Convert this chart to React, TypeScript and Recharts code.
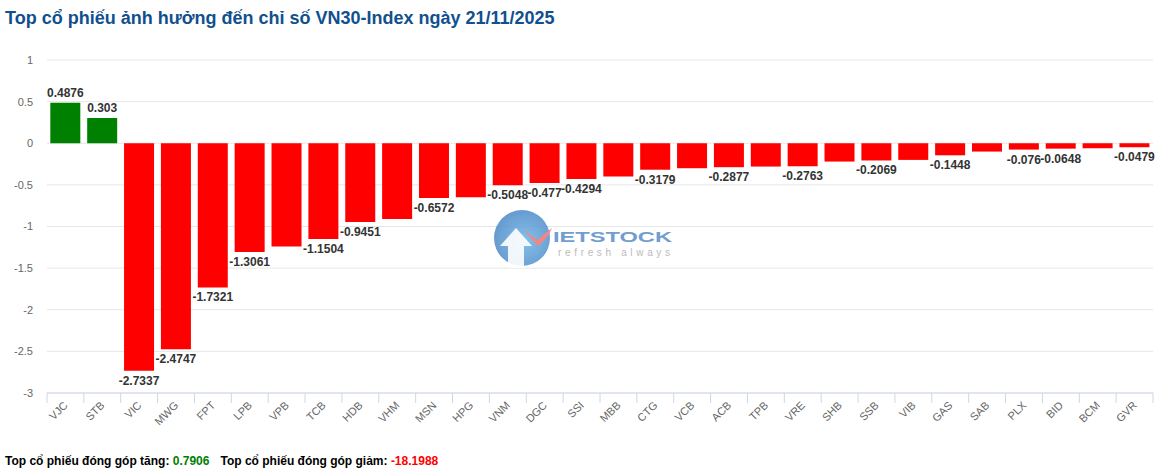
import React from 'react';
import { BarChart, Bar, XAxis, YAxis, CartesianGrid, Cell, LabelList } from 'recharts';

const tickers = ['VJC', 'STB', 'VIC', 'MWG', 'FPT', 'LPB', 'VPB', 'TCB', 'HDB', 'VHM', 'MSN', 'HPG', 'VNM', 'DGC', 'SSI', 'MBB', 'CTG', 'VCB', 'ACB', 'TPB', 'VRE', 'SHB', 'SSB', 'VIB', 'GAS', 'SAB', 'PLX', 'BID', 'BCM', 'GVR'];
const values = [0.4876, 0.303, -2.7337, -2.4747, -1.7321, -1.3061, -1.24, -1.1504, -0.9451, -0.91, -0.6572, -0.65, -0.5048, -0.477, -0.4294, -0.4, -0.3179, -0.3, -0.2877, -0.28, -0.2763, -0.22, -0.2069, -0.2, -0.1448, -0.1, -0.076, -0.0648, -0.06, -0.0479];
// labels the original chart hides because they overlap
const hiddenLabels = ['VPB', 'VHM', 'HPG', 'MBB', 'VCB', 'TPB', 'SHB', 'VIB', 'SAB', 'BCM'];
const yTicks = [-3, -2.5, -2, -1.5, -1, -0.5, 0, 0.5, 1];
const totalUp = '0.7906';
const totalDown = '-18.1988';

const data = tickers.map((name, i) => ({ name, value: values[i] }));

const W = 1164;
const H = 472;
const LEFT = 47;
const RIGHT = 11;
const TOP = 60;
const BOTTOM = 79;
const STEP = (W - LEFT - RIGHT) / tickers.length;
const FONT = '"Liberation Sans", Arial, sans-serif';

const XTick = (props: any) => {
    const { x, y, payload, index } = props;
    return (
        <g>
            <line x1={x - STEP / 2} x2={x - STEP / 2} y1={y} y2={y + 10} stroke="#ccd6eb" />
            {index === tickers.length - 1 && (
                <line x1={x + STEP / 2} x2={x + STEP / 2} y1={y} y2={y + 10} stroke="#ccd6eb" />
            )}
            <text
                x={x + 3}
                y={y + 13}
                textAnchor="end"
                fontSize={11}
                fill="#666666"
                fontFamily={FONT}
                transform={`rotate(-45 ${x + 3} ${y + 13})`}
            >
                {payload.value}
            </text>
        </g>
    );
};

const BarLabel = (props: any) => {
    const { x, y, width, height, value, index } = props;
    if (hiddenLabels.includes(tickers[index])) return null;
    const top = Math.min(y, y + height);
    const bottom = Math.max(y, y + height);
    const cx = x + width / 2;
    const ty = value >= 0 ? top - 6 : bottom + 14;
    return (
        <text x={cx} y={ty} textAnchor="middle" fontSize={12} fontWeight="bold" fill="#333333" fontFamily={FONT}>
            {value}
        </text>
    );
};

const Watermark = () => (
    <svg width={W} height={H} style={{ position: 'absolute', left: 0, top: 0, pointerEvents: 'none' }}>
        <defs>
            <radialGradient id="wm" cx="55%" cy="55%" r="60%">
                <stop offset="0%" stopColor="#6fb6e6" />
                <stop offset="100%" stopColor="#4a86c5" />
            </radialGradient>
        </defs>
        <g opacity={0.85}>
            <circle cx={522} cy={238} r={28} fill="url(#wm)" />
            <path d="M508 268 L508 246 L500 246 L516 228 L532 246 L524 246 L524 268 Z" fill="#ffffff" opacity={0.9} />
            <path d="M523 229 L537 240 L552 228 L548 236 L538 246 Z" fill="#f07070" />
            <text x={553} y={242} fontSize={15} fontWeight="bold" fill="#5a8cc8" fontFamily={FONT} textLength={119} lengthAdjust="spacingAndGlyphs">
                IETSTOCK
            </text>
            <text x={558} y={256} fontSize={10} fill="#b0b0b0" fontFamily={FONT} textLength={112} lengthAdjust="spacing">
                refresh always
            </text>
        </g>
    </svg>
);

export default function App() {
    return (
        <div style={{ position: 'absolute', left: 0, top: 0, width: W, height: H, background: '#ffffff', fontFamily: FONT }}>
            <div style={{ position: 'absolute', left: 5, top: 7, fontSize: 18, fontWeight: 'bold', color: '#11508e', lineHeight: '22px', whiteSpace: 'nowrap' }}>
                Top cổ phiếu ảnh hưởng đến chỉ số VN30-Index ngày 21/11/2025
            </div>
            <BarChart
                width={W}
                height={H}
                data={data}
                margin={{ top: TOP, right: RIGHT, bottom: 0, left: 0 }}
                barCategoryGap="9%"
                style={{ position: 'absolute', left: 0, top: 0 }}
            >
                <CartesianGrid vertical={false} stroke="#e6e6e6" />
                <YAxis
                    width={LEFT}
                    domain={[-3, 1]}
                    ticks={yTicks}
                    axisLine={false}
                    tickLine={false}
                    tickSize={0}
                    tickMargin={14}
                    tick={{ fontSize: 11, fill: '#666666', fontFamily: FONT }}
                    interval={0}
                />
                <XAxis
                    dataKey="name"
                    height={BOTTOM}
                    axisLine={{ stroke: '#ccd6eb' }}
                    tickLine={false}
                    tickSize={0}
                    tickMargin={0}
                    interval={0}
                    tick={<XTick />}
                />
                <Bar dataKey="value" isAnimationActive={false}>
                    {data.map((d, i) => (
                        <Cell key={`c-${i}`} fill={d.value >= 0 ? '#008000' : '#ff0000'} />
                    ))}
                    <LabelList dataKey="value" content={<BarLabel />} />
                </Bar>
            </BarChart>
            <Watermark />
            <div style={{ position: 'absolute', left: 5, top: 452, fontSize: 12, fontWeight: 'bold', color: '#000000', lineHeight: '18px', whiteSpace: 'nowrap' }}>
                Top cổ phiếu đóng góp tăng: <span style={{ color: '#008000' }}>{totalUp}</span>
                <span style={{ marginLeft: 11 }}>Top cổ phiếu đóng góp giảm: </span>
                <span style={{ color: '#ff0000' }}>{totalDown}</span>
            </div>
        </div>
    );
}
